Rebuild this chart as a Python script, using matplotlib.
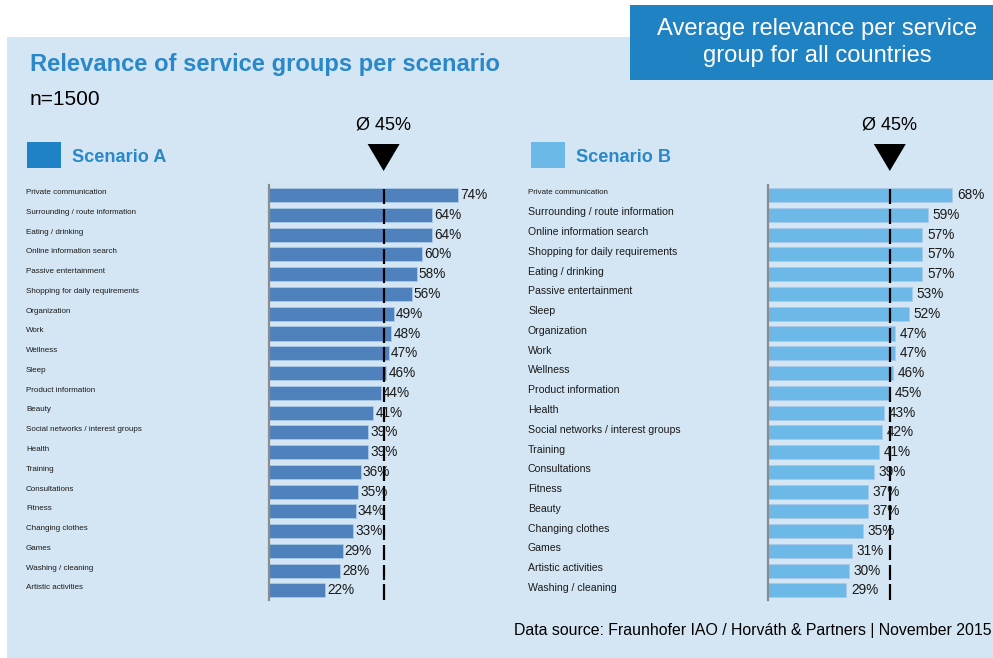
import matplotlib
matplotlib.use("Agg")
import matplotlib.pyplot as plt
from matplotlib.patches import Rectangle, Polygon

plt.rcParams['font.family'] = ['Liberation Sans', 'DejaVu Sans']

# ---- data ----
cats_a = ["Private communication", "Surrounding / route information", "Eating / drinking",
          "Online information search", "Passive entertainment", "Shopping for daily requirements",
          "Organization", "Work", "Wellness", "Sleep", "Product information", "Beauty",
          "Social networks / interest groups", "Health", "Training", "Consultations", "Fitness",
          "Changing clothes", "Games", "Washing / cleaning", "Artistic activities"]
vals_a = [74, 64, 64, 60, 58, 56, 49, 48, 47, 46, 44, 41, 39, 39, 36, 35, 34, 33, 29, 28, 22]

cats_b = ["Private communication", "Surrounding / route information", "Online information search",
          "Shopping for daily requirements", "Eating / drinking", "Passive entertainment", "Sleep",
          "Organization", "Work", "Wellness", "Product information", "Health",
          "Social networks / interest groups", "Training", "Consultations", "Fitness", "Beauty",
          "Changing clothes", "Games", "Artistic activities", "Washing / cleaning"]
vals_b = [68, 59, 57, 57, 57, 53, 52, 47, 47, 46, 45, 43, 42, 41, 39, 37, 37, 35, 31, 30, 29]

mean_a = 45
mean_b = 45

W, H = 993, 658
fig = plt.figure(figsize=(W / 100, H / 100), dpi=100)
fig.patch.set_facecolor('white')

# background overlay in pixel coords
bg = fig.add_axes([0, 0, 1, 1], zorder=0)
bg.set_xlim(0, W)
bg.set_ylim(H, 0)
bg.axis('off')

panel_col = '#D4E6F4'
bg.add_patch(Rectangle((7, 37), W - 7, H - 37, color=panel_col, lw=0))
bg.add_patch(Rectangle((630, 5), W - 630, 75, color='#1F82C2', lw=0))
bg.text(817, 35, "Average relevance per service", color='white', fontsize=17.1,
        ha='center', va='baseline')
bg.text(817, 62, "group for all countries", color='white', fontsize=17.1,
        ha='center', va='baseline')

title_col = '#2A88C8'
bg.text(30, 71, "Relevance of service groups per scenario", color=title_col,
        fontsize=17.1, fontweight='bold', ha='left', va='baseline')
bg.text(30, 105, "n=1500", color='black', fontsize=15, ha='left', va='baseline')

# legends
bg.add_patch(Rectangle((27, 142), 34, 26, color='#1F82C6', lw=0))
bg.text(72, 162, "Scenario A", color=title_col, fontsize=13.1, fontweight='bold',
        ha='left', va='baseline')
bg.add_patch(Rectangle((531, 142), 34, 26, color='#6CB8E6', lw=0))
bg.text(576, 162, "Scenario B", color=title_col, fontsize=13.1, fontweight='bold',
        ha='left', va='baseline')

bg.text(992, 635, "Data source: Fraunhofer IAO / Horváth & Partners | November 2015",
        color='black', fontsize=11.4, ha='right', va='baseline')


def draw_panel(x0, pxpp, cats, vals, mean, color, lab_x, lab_size, first_size, gap_pt):
    top, bottom = 185.3, 600.3
    xmax = 80
    ax = fig.add_axes([x0 / W, 1 - bottom / H, pxpp * xmax / W, (bottom - top) / H], zorder=2)
    ax.patch.set_alpha(0)
    n = len(cats)
    ys = list(range(n))
    ax.barh(ys, vals, height=0.71, color=color, edgecolor='#A9C9EA', linewidth=0.6, zorder=2)
    ax.set_xlim(0, xmax)
    ax.set_ylim(n - 0.5, -0.5)
    for s in ['top', 'right', 'bottom']:
        ax.spines[s].set_visible(False)
    ax.spines['left'].set_color('#8C8C8C')
    ax.spines['left'].set_linewidth(1.6)
    ax.set_xticks([])
    ax.set_yticks([])
    # category labels
    trans = ax.get_yaxis_transform()
    lx = (lab_x - x0) / (pxpp * xmax)
    for i, (c, v) in enumerate(zip(cats, vals)):
        fs = first_size if i == 0 else lab_size
        ax.text(lx, i - 0.13, c, transform=trans, fontsize=fs, color='#1a1a1a',
                ha='left', va='center', clip_on=False)
        ax.annotate(f"{v}%", (v, i), xytext=(gap_pt, 0), textcoords='offset points',
                    fontsize=9.8, color='#1a1a1a', ha='left', va='center', zorder=4)
    # mean line segments
    for i in ys:
        ax.vlines(mean, i - 0.3, i + 0.46, color='black', lw=1.6, zorder=3)
    # mean marker
    cx = x0 + mean * pxpp
    bg.add_patch(Polygon([[cx - 16, 144], [cx + 16, 144], [cx, 171]], closed=True,
                         color='black', lw=0))
    bg.text(cx, 130, f"Ø {mean}%", fontsize=13, color='black', ha='center', va='baseline')
    return ax


draw_panel(268.7, 2.554, cats_a, vals_a, mean_a, '#4F81BD', 26, 5.8, 5.8, 1.5)
draw_panel(767.5, 2.718, cats_b, vals_b, mean_b, '#6CB8E6', 528, 7.6, 5.7, 3.5)

fig.savefig("out.png", dpi=100)
